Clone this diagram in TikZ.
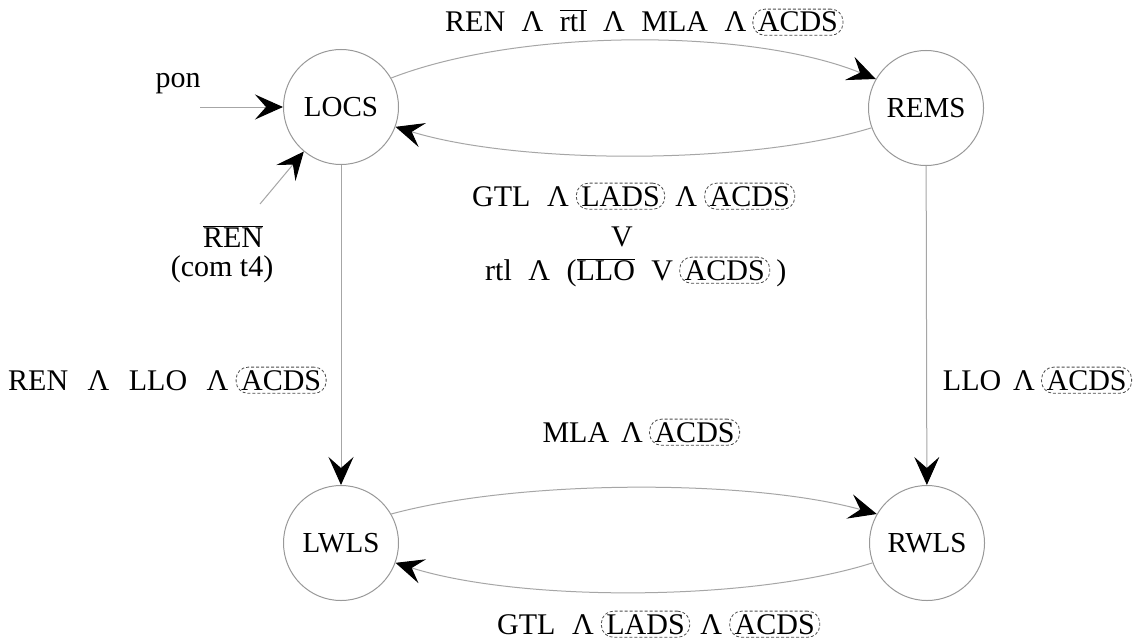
\documentclass[tikz,border=0pt]{standalone}
\usepackage{fontspec}
\setmainfont{Liberation Serif}
\usetikzlibrary{arrows.meta}
\newcommand\ovl[1]{$\overline{\hbox{#1}}$}
\newcommand\gap{\hspace{0.55em}}
\newcommand\wgap{\hspace{0.65em}}
\newcommand\ngap{\hspace{0.4em}}
\tikzset{
  state/.style={circle,draw=gray!80,line width=1pt,minimum size=115pt,inner sep=0pt,
    font=\fontsize{29}{34}\selectfont},
  trans/.style={draw=gray!70,line width=1pt,
    -{Stealth[length=28pt,width=25pt,inset=11pt,color=black]}},
  lbl/.style={font=\fontsize{30}{36}\selectfont,inner sep=0pt},
  oval/.style={font=\fontsize{30}{36}\selectfont,draw=gray!60!black,densely dashed,
    line width=0.8pt,rounded corners=12pt,inner xsep=5pt,inner ysep=3pt}
}
\begin{document}
\begin{tikzpicture}[x=1pt,y=-1pt]
\path[fill=white,use as bounding box] (0,0) rectangle (1137,642);

% states
\node[state] (LOCS) at (341,107) {LOCS};
\node[state] (REMS) at (926,108) {REMS};
\node[state] (LWLS) at (341,543) {LWLS};
\node[state] (RWLS) at (927,543) {RWLS};

% entry arrows
\coordinate (ponstart) at (200,107);
\coordinate (renstart) at (260,204);
\draw[trans] (ponstart) -- (LOCS);
\draw[trans] (renstart) -- (LOCS);
\node[lbl,anchor=base] (pon) at (178,87) {pon};
\node[lbl,anchor=base] (renbar) at (233,247) {\ovl{REN}};
\node[lbl,anchor=base] (comt) at (222,276) {(com t4)};

% transitions
\draw[trans] (LOCS.30) .. controls (520,28) and (750,28) .. (REMS.150);
\draw[trans] (REMS.200) .. controls (750,165) and (520,165) .. (LOCS.-20);
\draw[trans] (LWLS.30) .. controls (520,479) and (750,479) .. (RWLS.150);
\draw[trans] (RWLS.200) .. controls (750,602) and (520,602) .. (LWLS.-20);
\draw[trans] (LOCS) -- (LWLS);
\draw[trans] (REMS) -- (RWLS);

% top label
\node[lbl,anchor=base west] (topA) at (445,32) {REN\gap Λ\gap\ovl{rtl}\gap Λ\gap MLA\gap Λ};
\node[oval,anchor=base west,xshift=6pt] (topB) at (topA.base east) {ACDS};

% middle labels
\node[lbl,anchor=base west] (m1a) at (472,206) {GTL\gap Λ};
\node[oval,anchor=base west,xshift=7pt] (m1b) at (m1a.base east) {LADS};
\node[lbl,anchor=base west,xshift=10pt] (m1c) at (m1b.base east) {Λ};
\node[oval,anchor=base west,xshift=7pt] (m1d) at (m1c.base east) {ACDS};
\node[lbl,anchor=base] (m2) at (622,246) {V};
\node[lbl,anchor=base west] (m3a) at (485,280) {rtl\gap Λ\gap (\ovl{LLO}\gap V};
\node[oval,anchor=base west,xshift=6pt] (m3b) at (m3a.base east) {ACDS};
\node[lbl,anchor=base west,xshift=6pt] (m3c) at (m3b.base east) {)};

% side labels
\node[lbl,anchor=base west] (lA) at (8,390) {REN\wgap Λ\wgap LLO\wgap Λ};
\node[oval,anchor=base west,xshift=7pt] (lB) at (lA.base east) {ACDS};
\node[oval,anchor=base east] (rB) at (1132,390) {ACDS};
\node[lbl,anchor=base east,xshift=-6pt] (rA) at (rB.base west) {LLO\ngap Λ};

% bottom labels
\node[oval,anchor=base east] (b1b) at (740,442) {ACDS};
\node[lbl,anchor=base east,xshift=-6pt] (b1a) at (b1b.base west) {MLA\ngap Λ};
\node[lbl,anchor=base west] (b2a) at (497,634) {GTL\gap Λ};
\node[oval,anchor=base west,xshift=7pt] (b2b) at (b2a.base east) {LADS};
\node[lbl,anchor=base west,xshift=10pt] (b2c) at (b2b.base east) {Λ};
\node[oval,anchor=base west,xshift=7pt] (b2d) at (b2c.base east) {ACDS};
\end{tikzpicture}
\end{document}
